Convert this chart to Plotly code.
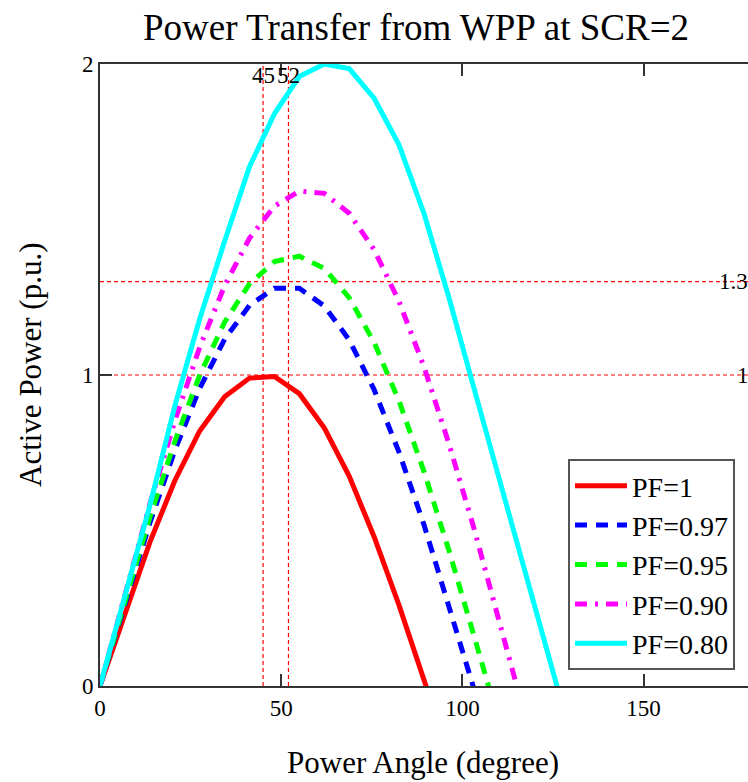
import plotly.graph_objects as go

# Power angle samples (degree)
angle = [0, 6.88, 13.75, 20.63, 27.5, 34.38, 41.25, 48.13, 55.0, 61.88, 68.75,
         75.63, 82.5, 89.38, 96.25, 103.13, 110.0, 116.88, 123.75, 130.63]

# Active power (p.u.) for each power factor
pf_100 = [0, 0.237, 0.462, 0.66, 0.82, 0.93, 0.99, 0.995, 0.94, 0.83, 0.675,
          0.48, 0.26, 0.02, -0.22]
pf_097 = [0, 0.268, 0.524, 0.757, 0.957, 1.115, 1.224, 1.279, 1.279, 1.222, 1.113,
          0.953, 0.752, 0.519, 0.263, -0.005, -0.27]
pf_095 = [0, 0.277, 0.542, 0.786, 0.999, 1.170, 1.293, 1.365, 1.382, 1.343, 1.249,
          1.105, 0.917, 0.690, 0.437, 0.164, -0.113]
pf_090 = [0, 0.298, 0.585, 0.852, 1.089, 1.287, 1.440, 1.543, 1.591, 1.584, 1.520,
          1.403, 1.237, 1.027, 0.780, 0.509, 0.216, -0.081]
pf_080 = [0, 0.29, 0.58, 0.90, 1.18, 1.43, 1.67, 1.84, 1.96, 2.00, 1.985,
          1.89, 1.74, 1.52, 1.25, 0.96, 0.67, 0.39, 0.10, -0.19]

series_names = ["PF=1", "PF=0.97", "PF=0.95", "PF=0.90", "PF=0.80"]
series_values = [pf_100, pf_097, pf_095, pf_090, pf_080]
series_colors = ["#FF0000", "#0000FF", "#00FF00", "#FF00FF", "#00FFFF"]
series_dash = ["solid", "12px,9px", "12px,9px", "12px,8px,3px,8px", "solid"]

# Marker values
vmarkers = [45, 52]
hmarkers = [1, 1.3]
hmarker_labels = ["1", "1.3"]

x_ticks = [0, 50, 100, 150]
y_ticks = [0, 1, 2]

SERIF = "Liberation Serif"

W, H = 748, 782
L, R, T, B = 100, 0, 64, 96
PW, PH = W - L - R, H - T - B

fig = go.Figure()
for name, vals, col, dash in zip(series_names, series_values, series_colors, series_dash):
    fig.add_trace(go.Scatter(
        x=angle[:len(vals)], y=vals, mode="lines", name=name,
        line=dict(color=col, width=5, dash=dash),
    ))

shapes = []
for v in vmarkers:
    shapes.append(dict(type="line", xref="x", yref="paper", x0=v, x1=v, y0=0, y1=1,
                       line=dict(color="#FF0000", width=1.2, dash="4px,3px"), layer="below"))
for h in hmarkers:
    shapes.append(dict(type="line", xref="paper", yref="y", x0=0, x1=1, y0=h, y1=h,
                       line=dict(color="#FF0000", width=1.2, dash="4px,3px"), layer="below"))

annotations = []
for v in vmarkers:
    annotations.append(dict(x=v, y=(H - B - 75) / PH, xref="x", yref="paper", text=str(v),
                            showarrow=False, xanchor="center", yanchor="middle",
                            font=dict(family=SERIF, size=23, color="black")))
for h, lab in zip(hmarkers, hmarker_labels):
    xpos = 717 if lab == "1.3" else 735
    annotations.append(dict(x=(xpos - L) / PW, y=h, xref="paper", yref="y", text=lab,
                            showarrow=False, xanchor="left", yanchor="middle",
                            font=dict(family=SERIF, size=23, color="black")))
# Axis titles (pixel positions converted to paper coords)
annotations.append(dict(x=(423 - L) / PW, y=(H - B - 762) / PH, xref="paper", yref="paper",
                        text="Power Angle (degree)", showarrow=False,
                        xanchor="center", yanchor="middle",
                        font=dict(family=SERIF, size=31, color="black")))
annotations.append(dict(x=(30 - L) / PW, y=(H - B - 365) / PH, xref="paper", yref="paper",
                        text="Active Power (p.u.)", showarrow=False, textangle=-90,
                        xanchor="center", yanchor="middle",
                        font=dict(family=SERIF, size=31, color="black")))

fig.update_layout(
    width=W, height=H,
    margin=dict(l=L, r=R, t=T, b=B),
    paper_bgcolor="white", plot_bgcolor="white",
    title=dict(text="Power Transfer from WPP at SCR=2", x=416 / W, xanchor="center",
               y=1 - 27 / H, yanchor="middle",
               font=dict(family=SERIF, size=37, color="black")),
    font=dict(family=SERIF, color="black"),
    showlegend=True,
    legend=dict(x=(735 - L) / PW, y=(H - B - 670) / PH, xanchor="right", yanchor="bottom",
                bgcolor="white", bordercolor="#555555", borderwidth=2,
                font=dict(family=SERIF, size=28, color="black"),
                itemwidth=52, tracegroupgap=0),
    shapes=shapes,
    annotations=annotations,
    xaxis=dict(range=[0, 178.8], tickvals=x_ticks, ticktext=[str(t) for t in x_ticks],
               ticks="inside", ticklen=12, tickwidth=1.5, tickcolor="#333333",
               showline=True, linecolor="#333333", linewidth=2, mirror="ticks",
               showgrid=False, zeroline=False,
               tickfont=dict(family=SERIF, size=23, color="black")),
    yaxis=dict(range=[0, 2], tickvals=y_ticks, ticktext=[str(t) for t in y_ticks],
               ticks="inside", ticklen=12, tickwidth=1.5, tickcolor="#333333",
               showline=True, linecolor="#333333", linewidth=2, mirror=False,
               showgrid=False, zeroline=False,
               tickfont=dict(family=SERIF, size=23, color="black")),
)

fig.write_html("out.html", config={"displayModeBar": False},
               post_script="document.body.style.margin='0';document.body.style.overflow='hidden';")
